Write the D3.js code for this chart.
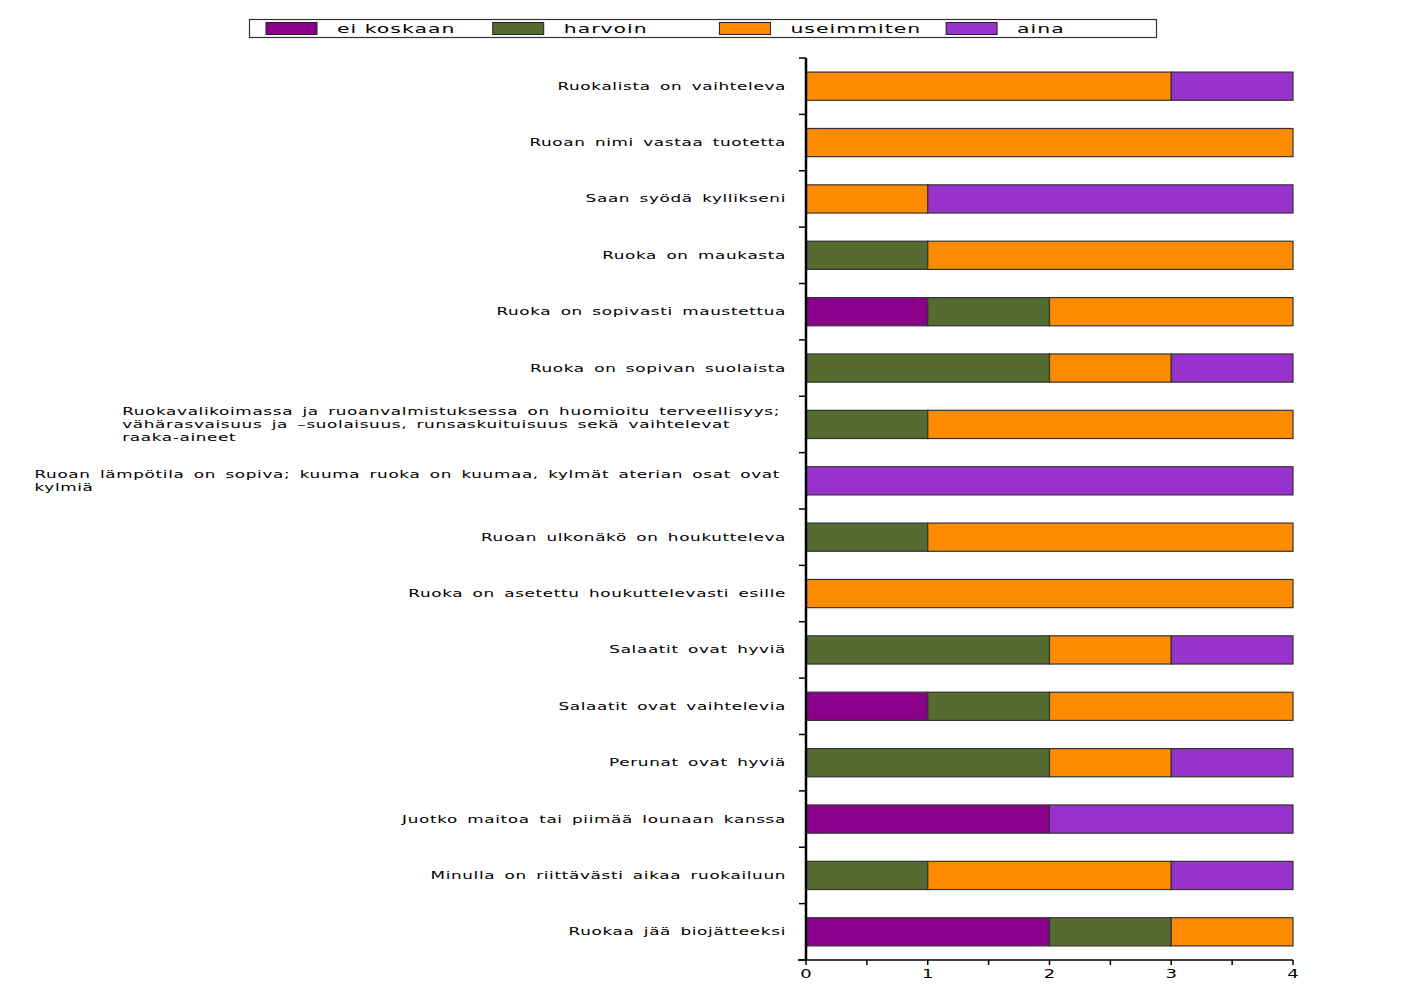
<!DOCTYPE html>
<html><head><meta charset="utf-8">
<script src="https://cdn.jsdelivr.net/npm/d3@7"></script>
<style>
body{margin:0;background:#fff;}
text{font-family:"DejaVu Sans",Verdana,sans-serif;fill:#000;}
</style></head>
<body><svg id="c" width="1406" height="1000"></svg>
<script>
const categories = [
  ["Ruokalista on vaihteleva"],
  ["Ruoan nimi vastaa tuotetta"],
  ["Saan syödä kyllikseni"],
  ["Ruoka on maukasta"],
  ["Ruoka on sopivasti maustettua"],
  ["Ruoka on sopivan suolaista"],
  ["Ruokavalikoimassa ja ruoanvalmistuksessa on huomioitu terveellisyys;","vähärasvaisuus ja –suolaisuus, runsaskuituisuus sekä vaihtelevat","raaka-aineet"],
  ["Ruoan lämpötila on sopiva; kuuma ruoka on kuumaa, kylmät aterian osat ovat","kylmiä"],
  ["Ruoan ulkonäkö on houkutteleva"],
  ["Ruoka on asetettu houkuttelevasti esille"],
  ["Salaatit ovat hyviä"],
  ["Salaatit ovat vaihtelevia"],
  ["Perunat ovat hyviä"],
  ["Juotko maitoa tai piimää lounaan kanssa"],
  ["Minulla on riittävästi aikaa ruokailuun"],
  ["Ruokaa jää biojätteeksi"]
];
const seriesNames = ["ei koskaan","harvoin","useimmiten","aina"];
const seriesColors = ["#8B008B","#556B2F","#FF8C00","#9932CC"];
const eiKoskaan  = [0,0,0,0,1,0,0,0,0,0,0,1,0,2,0,2];
const harvoin    = [0,0,0,1,1,2,1,0,1,0,2,1,2,0,1,1];
const useimmiten = [3,4,1,3,2,1,3,0,3,4,1,2,1,0,2,1];
const aina       = [1,0,3,0,0,1,0,4,0,0,1,0,1,2,1,0];
const xTicks = [0,1,2,3,4];

const svg = d3.select("#c");
const x0 = 806, x1 = 1293, yTop = 58, yBot = 960;
const keys = categories.map((d,i)=>i);
const x = d3.scaleLinear().domain([0,4]).range([x0,x1]);
const y = d3.scaleBand().domain(keys).range([yTop,yBot]).paddingInner(0.5).paddingOuter(0.25);

const rows = keys.map(i=>({i, "ei koskaan":eiKoskaan[i], harvoin:harvoin[i], useimmiten:useimmiten[i], aina:aina[i]}));
const stack = d3.stack().keys(seriesNames)(rows);

stack.forEach((s,si)=>{
  svg.append("g").selectAll("rect").data(s.filter(d=>d[1]>d[0])).join("rect")
    .attr("x",d=>x(d[0])).attr("width",d=>x(d[1])-x(d[0]))
    .attr("y",d=>y(d.data.i)).attr("height",y.bandwidth())
    .attr("fill",seriesColors[si]).attr("stroke","#333").attr("stroke-width",1.2);
});

// y axis line and boundary ticks
const bScale = d3.scaleLinear().domain([0,categories.length]).range([yTop,yBot]);
svg.append("line").attr("x1",x0).attr("x2",x0).attr("y1",yTop).attr("y2",yBot).attr("stroke","#000").attr("stroke-width",2.5);
svg.append("g").selectAll("line").data(d3.range(categories.length+1)).join("line")
  .attr("x1",x0-7).attr("x2",x0).attr("y1",d=>bScale(d)).attr("y2",d=>bScale(d)).attr("stroke","#000").attr("stroke-width",1.5);

// x axis
svg.append("line").attr("x1",x0-8).attr("x2",x1).attr("y1",yBot).attr("y2",yBot).attr("stroke","#000").attr("stroke-width",1.5);
svg.append("g").selectAll("line").data(d3.range(0,4.01,0.5)).join("line")
  .attr("x1",d=>x(d)).attr("x2",d=>x(d)).attr("y1",yBot).attr("y2",yBot+5).attr("stroke","#000").attr("stroke-width",1.5);
svg.append("g").selectAll("text").data(xTicks).join("text")
  .attr("x",d=>x(d)).attr("y",978).attr("text-anchor","middle")
  .style("font-size","12px").attr("transform",d=>`translate(${x(d)},0) scale(1.5,1) translate(${-x(d)},0)`)
  .text(d=>d);

// category labels (horizontally stretched like the original)
const labelRight = 786, lineH = 13, sx = 1.68;
const lblStyle = sel => sel.style("font-size","10px").style("letter-spacing","0.4px").style("word-spacing","2px");
const lblG = svg.append("g").attr("transform",`translate(${labelRight},0) scale(${sx},1)`);
categories.forEach((lines,i)=>{
  const cy = y(i)+y.bandwidth()/2;
  if(lines.length===1){
    lblG.append("text").attr("x",0).attr("y",cy+3.5).attr("text-anchor","end").call(lblStyle).text(lines[0]);
  } else {
    const ts = lines.map((l,k)=>lblG.append("text").attr("y",cy+3.5+(k-(lines.length-1)/2)*lineH).call(lblStyle).text(l));
    const w = d3.max(ts.map(t=>t.node().getComputedTextLength()));
    ts.forEach(t=>t.attr("x",-6/sx-w));
  }
});

// legend
svg.append("rect").attr("x",249.5).attr("y",19.5).attr("width",907).attr("height",18).attr("fill","#fff").attr("stroke","#333").attr("stroke-width",1.2);
const lg = svg.append("g").selectAll("g").data(seriesNames).join("g")
  .attr("transform",(d,i)=>`translate(${266+i*226.7},0)`);
lg.append("rect").attr("x",0).attr("y",22.5).attr("width",51).attr("height",12).attr("fill",(d,i)=>seriesColors[i]).attr("stroke","#222").attr("stroke-width",1);
lg.append("text").attr("transform","translate(71,0) scale(1.7,1)").attr("x",0).attr("y",33).style("font-size","12px").style("letter-spacing","0.6px").text(d=>d);
</script></body></html>
